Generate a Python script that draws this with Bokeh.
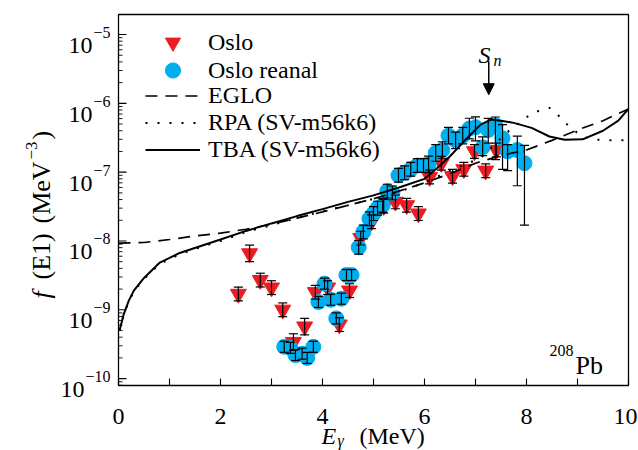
import math
from bokeh.plotting import figure
from bokeh.models import (Range1d, ColumnDataSource, Whisker, TeeHead, Label, Arrow, NormalHead,
                          Legend, LegendItem)
from bokeh.embed import file_html
from bokeh.resources import INLINE

# ---------------- data ----------------
oslo_E = [2.35, 2.57, 2.78, 3.00, 3.22, 3.43, 3.65, 3.86, 4.10, 4.33, 4.53, 4.75, 4.96, 5.20,
          5.43, 5.65, 5.88, 6.10, 6.33, 6.55, 6.77, 6.98, 7.20, 7.41]
oslo_f = [1.7e-9, 6.6e-9, 2.7e-9, 2.1e-9, 1.0e-9, 3.4e-10, 5.7e-10, 1.8e-9, 2.1e-9, 6.1e-10,
          1.9e-9, 1.1e-8, 1.9e-8, 3.2e-8, 3.7e-8, 3.3e-8, 2.5e-8, 8.5e-8, 1.35e-7, 8.7e-8,
          1.1e-7, 2.0e-7, 1.05e-7, 2.1e-7]
oslo_err_dex = [0.1, 0.12, 0.1, 0.1, 0.1, 0.12, 0.12, 0.1, 0.1, 0.1, 0.1, 0.1, 0.1, 0.1,
                0.1, 0.1, 0.1, 0.1, 0.1, 0.1, 0.1, 0.1, 0.1, 0.1]

reanal_E = [3.25, 3.37, 3.47, 3.60, 3.70, 3.82, 3.92, 4.04, 4.16, 4.27, 4.37, 4.47, 4.57,
            4.71, 4.80, 4.92, 5.00, 5.08, 5.18, 5.27, 5.37, 5.49, 5.61, 5.73, 5.86, 5.98,
            6.08, 6.22, 6.35, 6.47, 6.61, 6.75, 6.88, 7.00, 7.14, 7.25, 7.39, 7.53, 7.63,
            7.82, 7.96]
reanal_f = [2.9e-10, 2.8e-10, 2.2e-10, 2.3e-10, 2.0e-10, 2.9e-10, 1.3e-9, 2.4e-9, 1.4e-9,
            7.5e-10, 1.45e-9, 3.2e-9, 3.2e-9, 8.1e-9, 1.35e-8, 2.1e-8, 2.5e-8, 3.0e-8,
            3.3e-8, 5.3e-8, 5.0e-8, 9.0e-8, 9.8e-8, 1.1e-7, 1.25e-7, 1.25e-7, 1.3e-7,
            1.9e-7, 2.1e-7, 3.4e-7, 2.9e-7, 3.4e-7, 4.3e-7, 4.5e-7, 2.3e-7, 4.1e-7,
            4.8e-7, 3.1e-7, 2.0e-7, 2.1e-7, 1.35e-7]
reanal_hi_dex = [0.08] * 13 + [0.1] * 13 + [0.12] * 6 + [0.15, 0.15, 0.15, 0.17, 0.12, 0.2,
                                                         0.1, 0.2, 0.26]
reanal_lo_dex = [0.08] * 13 + [0.1] * 13 + [0.12] * 6 + [0.15, 0.2, 0.12, 0.19, 0.5, 0.45,
                                                         0.28, 0.52, 0.9]

eglo_E = [0.0, 0.5, 1.0, 1.5, 2.0, 2.5, 3.0, 3.5, 4.0, 4.5, 5.0, 5.5, 6.0, 6.5, 7.0, 7.5,
          8.0, 8.5, 9.0, 9.5, 10.0]
eglo_f = [9.3e-9, 9.5e-9, 1.05e-8, 1.18e-8, 1.3e-8, 1.48e-8, 1.75e-8, 2.15e-8, 2.65e-8,
          3.3e-8, 4.1e-8, 5.3e-8, 7.0e-8, 9.5e-8, 1.35e-7, 1.75e-7, 2.1e-7, 2.9e-7, 4.1e-7,
          5.6e-7, 8.3e-7]

rpa_E = [0.02, 0.1, 0.2, 0.3, 0.5, 0.8, 1.2, 1.6, 2.0, 2.5, 3.0, 3.5, 4.0, 4.5, 5.0, 5.5,
         6.0, 6.5, 7.1, 7.6, 8.0, 8.2, 8.45, 8.6, 8.75, 8.9, 9.1, 9.3, 9.6, 10.0]
rpa_f = [5.0e-10, 8.3e-10, 1.3e-9, 1.85e-9, 2.8e-9, 4.6e-9, 6.4e-9, 8.1e-9, 1.0e-8, 1.35e-8,
         1.7e-8, 2.15e-8, 2.7e-8, 3.3e-8, 4.1e-8, 5.2e-8, 7.0e-8, 1.05e-7, 1.6e-7, 3.7e-7,
         6.3e-7, 7.6e-7, 8.6e-7, 7.0e-7, 5.3e-7, 4.2e-7, 3.3e-7, 3.0e-7, 2.9e-7, 2.9e-7]

tba_E = [0.02, 0.1, 0.2, 0.3, 0.5, 0.8, 1.2, 1.6, 2.0, 2.5, 3.0, 3.5, 4.0, 4.5, 5.0, 5.5,
         6.0, 6.25, 6.5, 6.85, 7.1, 7.3, 7.5, 7.75, 8.1, 8.45, 8.75, 9.1, 9.5, 9.8, 10.0]
tba_f = [5.0e-10, 8.5e-10, 1.35e-9, 1.9e-9, 2.9e-9, 4.8e-9, 6.7e-9, 8.4e-9, 1.05e-8, 1.4e-8,
         1.8e-8, 2.3e-8, 2.9e-8, 3.7e-8, 4.6e-8, 6.0e-8, 8.0e-8, 1.15e-7, 1.7e-7, 3.2e-7,
         4.9e-7, 5.8e-7, 5.6e-7, 5.2e-7, 4.4e-7, 3.3e-7, 2.95e-7, 3.0e-7, 4.0e-7, 5.6e-7,
         8.3e-7]

sn_energy = 7.26
sn_arrow_y = [10 ** -5.39, 10 ** -5.875]

x_ticks = [0, 1, 2, 3, 4, 5, 6, 7, 8, 9, 10]
x_tick_labels = ["0", "", "2", "", "4", "", "6", "", "8", "", "10"]
y_ticks = [1e-10, 1e-9, 1e-8, 1e-7, 1e-6, 1e-5]
y_limits = [10 ** -10.10, 10 ** -4.709]
x_limits = [0, 10]

legend_labels = ["Oslo", "Oslo reanal", "EGLO", "RPA (SV-m56k6)", "TBA (SV-m56k6)"]

RED = "#ed1c24"
BLUE = "#00aeef"
FONT = "Liberation Serif"

# ---------------- layout: frame fills the page, the axes box sits inside it ----------------
W, H = 638, 450
BOX_L, BOX_R, BOX_T, BOX_B = 118, 628, 14, 385          # axes box in page pixels
px_per_x = (BOX_R - BOX_L) / (x_limits[1] - x_limits[0])
ly0, ly1 = math.log10(y_limits[0]), math.log10(y_limits[1])
px_per_dec = (BOX_B - BOX_T) / (ly1 - ly0)
x_view = [x_limits[0] - BOX_L / px_per_x, x_limits[1] + (W - BOX_R) / px_per_x]
y_view = [10 ** (ly0 - (H - BOX_B) / px_per_dec), 10 ** (ly1 + BOX_T / px_per_dec)]

p = figure(width=W, height=H, y_axis_type="log",
           x_range=Range1d(*x_view), y_range=Range1d(*y_view),
           output_backend="svg", toolbar_location=None, title=None,
           min_border_left=0, min_border_right=0, min_border_top=0, min_border_bottom=0)
p.xgrid.visible = False
p.ygrid.visible = False
p.xaxis.visible = False
p.yaxis.visible = False
p.outline_line_color = None
p.background_fill_color = "white"
p.border_fill_color = "white"

# ---------------- axes box and inward ticks (from the tick lists, through the scales) ------
p.quad(left=[x_limits[0]], right=[x_limits[1]], bottom=[y_limits[0]], top=[y_limits[1]],
       fill_color=None, line_color="black", line_width=1.3)

tick_up = 10 ** (7 / px_per_dec)            # 7 px inward for x ticks
p.segment(x0=x_ticks, y0=[y_limits[0]] * len(x_ticks),
          x1=x_ticks, y1=[y_limits[0] * tick_up] * len(x_ticks),
          line_color="black", line_width=1.1)

minor = [m * 10.0 ** e for e in range(-11, -4) for m in range(2, 10)
         if y_limits[0] < m * 10.0 ** e < y_limits[1]]
p.segment(x0=[x_limits[0]] * len(y_ticks), y0=y_ticks,
          x1=[x_limits[0] + 8 / px_per_x] * len(y_ticks), y1=y_ticks,
          line_color="black", line_width=1.1)
p.segment(x0=[x_limits[0]] * len(minor), y0=minor,
          x1=[x_limits[0] + 4 / px_per_x] * len(minor), y1=minor,
          line_color="black", line_width=0.9)

# ---------------- data glyphs ----------------
r_oslo = p.scatter(oslo_E, oslo_f, marker="inverted_triangle", size=16,
                   fill_color=RED, line_color=RED)
r_reanal = p.scatter(reanal_E, reanal_f, marker="circle", size=15,
                     fill_color=BLUE, line_color=BLUE)
r_eglo = p.line(eglo_E, eglo_f, line_color="black", line_width=1.7, line_dash="12 8")
r_rpa = p.line(rpa_E, rpa_f, line_color="black", line_width=2.0, line_dash="2 10")
r_tba = p.line(tba_E, tba_f, line_color="black", line_width=2.0)

oslo_src = ColumnDataSource(dict(
    x=oslo_E,
    upper=[f * 10 ** e for f, e in zip(oslo_f, oslo_err_dex)],
    lower=[f / 10 ** e for f, e in zip(oslo_f, oslo_err_dex)]))
reanal_src = ColumnDataSource(dict(
    x=reanal_E,
    upper=[f * 10 ** e for f, e in zip(reanal_f, reanal_hi_dex)],
    lower=[f / 10 ** e for f, e in zip(reanal_f, reanal_lo_dex)]))
for src in (oslo_src, reanal_src):
    w = Whisker(source=src, base="x", upper="upper", lower="lower", dimension="height",
                line_color="black", line_width=1.2, level="overlay",
                upper_head=TeeHead(size=9, line_color="black", line_width=1.2),
                lower_head=TeeHead(size=9, line_color="black", line_width=1.2))
    p.add_layout(w)

# ---------------- legends (three blocks, so markers keep their size) ----------------
common = dict(padding=0, margin=0, spacing=0, label_standoff=8, glyph_width=55,
              label_text_font=FONT, label_text_font_size="24px", label_text_color="black",
              border_line_color=None, background_fill_alpha=0)
lx = BOX_L + 27
leg1 = Legend(items=[LegendItem(label=legend_labels[0], renderers=[r_oslo])],
              location=(lx, H - 61), glyph_height=38, label_height=38, **common)
leg2 = Legend(items=[LegendItem(label=legend_labels[1], renderers=[r_reanal])],
              location=(lx, H - 89), glyph_height=38, label_height=38, **common)
leg3 = Legend(items=[LegendItem(label=l, renderers=[r]) for l, r in
                     zip(legend_labels[2:], [r_eglo, r_rpa, r_tba])],
              location=(lx, H - 163), glyph_height=27, label_height=27, **common)
for lg in (leg1, leg2, leg3):
    p.add_layout(lg)


# ---------------- texts (page pixel positions, y measured from the top) ----------------
def clabel(text, cx, cy, size, style="normal", align="left", baseline="alphabetic", angle=0):
    p.add_layout(Label(x=cx, y=H - cy, x_units="screen", y_units="screen", text=text,
                       text_font=FONT, text_font_size=f"{size}px", text_font_style=style,
                       text_align=align, text_baseline=baseline, angle=angle,
                       text_color="black"))


def dlabel(text, x, y, size, xu, yu, dx=0, dy=0, align="left", baseline="alphabetic",
           style="normal"):
    p.add_layout(Label(x=x, y=y, x_units=xu, y_units=yu, x_offset=dx, y_offset=dy,
                       text=text, text_font=FONT, text_font_size=f"{size}px",
                       text_font_style=style, text_align=align, text_baseline=baseline,
                       text_color="black"))


# x tick labels
for t, lab in zip(x_ticks, x_tick_labels):
    if lab:
        dlabel(lab, t, y_limits[0], 24, "data", "data", dy=-31, align="center",
               dx=(-3 if t == x_limits[1] else 0))

# y tick labels: 10 with a superscript exponent
for v in y_ticks:
    e = int(round(math.log10(v)))
    exp_txt = "\u2212" + str(abs(e))
    exp_w = 9 + 8 * len(str(abs(e)))
    dlabel(exp_txt, BOX_L - 8, v, 16, "screen", "data", dy=2, align="right")
    dlabel("10", BOX_L - 9 - exp_w, v, 24, "screen", "data", dy=-11, align="right")

# x axis title
clabel("E", 321, 435, 24, style="italic")
clabel("\u03b3", 337, 440, 16, style="italic")
clabel("(MeV)", 359, 435, 24)

# y axis title (rotated)
A = math.pi / 2
clabel("f", 41, 298, 26, style="italic", baseline="middle", angle=A)
clabel("(E1)", 41, 279, 26, baseline="middle", angle=A)
clabel("(MeV", 41, 223, 26, baseline="middle", angle=A)
clabel("\u22123", 31, 159, 17, baseline="middle", angle=A)
clabel(")", 41, 139, 26, baseline="middle", angle=A)

# S_n marker
p.add_layout(Arrow(end=NormalHead(size=11, fill_color="black", line_color="black"),
                   x_start=sn_energy, y_start=sn_arrow_y[0],
                   x_end=sn_energy, y_end=sn_arrow_y[1],
                   line_color="black", line_width=1.5))
clabel("S", 478, 54, 24, style="italic")
clabel("n", 493, 60, 16, style="italic")

# nucleus label
clabel("208", 549, 350, 16)
clabel("Pb", 575, 365, 26)

open("out.html", "w").write(file_html(p, INLINE))
